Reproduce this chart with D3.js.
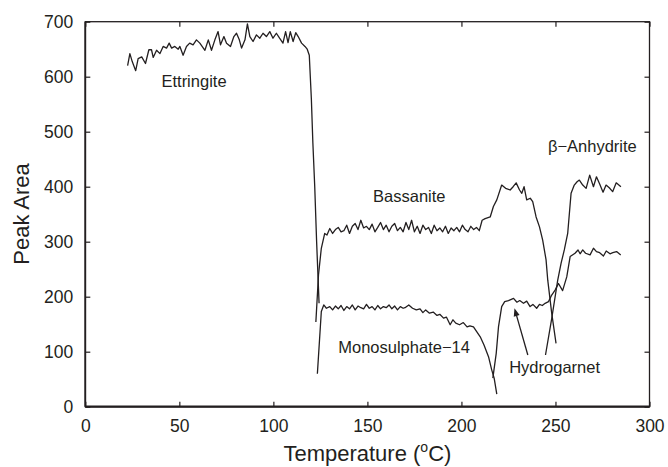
<!DOCTYPE html>
<html><head><meta charset="utf-8">
<script src="https://cdn.jsdelivr.net/npm/d3@7/dist/d3.min.js"></script>
<style>
body{margin:0;background:#fff;}
text{font-family:"Liberation Sans",Arial,sans-serif;fill:#231f20;}
</style></head>
<body><svg id="c" width="668" height="467"></svg>
<script>
const xTicks=[0,50,100,150,200,250,300];
const yTicks=[0,100,200,300,400,500,600,700];

const ettringiteT=[22.5,23.7,25,26.8,28.1,30,32,33.8,35.2,36.1,37.9,39.7,41.4,43.2,44.6,45.9,47.6,49.4,50.3,52,53.8,55.5,57.3,59.1,60.9,63.6,65.4,67.1,68.9,70.6,71.9,73.7,75.1,77.2,79,80.4,81.9,83.1,84.9,86.2,87.5,89.2,91,92.8,94.5,96.3,98.1,99.8,101.6,103.3,105.1,106.5,107.8,109,110.5,111.9,113.2,115,116.8,118,119.1,120.2,121,122,123,124.3];
const ettringiteV=[620,642,627,611,633,636,624,649,649,635,648,642,655,652,661,652,655,650,655,639,655,661,658,667,661,648,667,648,667,682,658,673,661,655,673,679,667,652,667,696,673,664,676,670,679,673,682,670,679,670,661,682,662,682,664,680,673,661,655,650,639,560,480,400,300,188];

const bassaniteT=[122.6,124,125.5,127.3,128.5,130,131.5,133,134.5,136,137.5,139,140.5,142,143.5,145,146.5,148,149.5,151,152.5,154,155.5,157,158.5,160,161.5,163,164.5,166,167.5,169,170.5,172,173.5,175,176.5,178,179.5,181,182.5,184,185.5,187,188.5,190,191.5,193,194.5,196,197.5,199,200.5,202,203.5,205,206.5,208,209.5,211,212.6,215.3,217,218.8,221.4,223.5,225.9,227.5,229.1,230.9,232.1,233.3,234.7,236.6,237.9,239.7,241.5,243.2,245,245.9,248,250.3];
const bassaniteV=[154,240,288,315,312,324,315,322,326,318,320,330,315,328,333,322,339,325,328,322,332,318,326,335,322,330,318,328,333,320,326,318,335,322,339,318,328,315,330,322,326,315,330,320,325,318,328,315,325,320,326,318,330,322,318,328,322,326,320,339,342,345,364,376,403,397,394,400,407,394,388,400,376,379,373,345,327,303,267,230,170,115];

const monosulphateT=[123.4,125.5,126.8,128.2,130,131.5,133,134.5,136,137.5,139,140.5,142,143.5,145,146.5,148,149.5,151,152.5,154,155.5,157,158.5,160,161.5,163,164.5,166,167.5,169,170,172,174,176,178,179.5,181,183,185,187,188.5,190.5,192,194,195.5,197,199,201,203,204.5,206.4,208.2,210,212,214.4,216.1,217.4,218.8];
const monosulphateV=[60,173,185,179,182,176,183,178,184,175,182,178,185,176,183,180,178,186,179,182,176,184,178,182,180,185,178,183,176,182,179,180,185,179,176,178,171,176,170,172,166,168,161,163,149,158,152,149,153,145,147,145,136,127,112,91,67,52,23];

const hydrogarnetT=[216.7,218.5,219.7,221.4,223,225,227.7,229.5,231,233,234.7,236.5,238,240,241.5,243,244.5,246.3,248,249.8,251.6,253.8,256,257.8,260.4,262,263.1,264.5,266,268.4,270.2,271.8,273.5,275.5,277,279,280.5,282.5,284.7];
const hydrogarnetV=[52,97,145,182,191,193,197,190,193,188,192,182,186,179,186,184,188,191,203,212,224,211,236,273,279,285,278,285,279,276,288,282,280,274,283,278,280,282,276];

const anhydriteT=[244.7,248,251.2,253,254.7,256.5,258.3,260,261.5,262.7,264.5,266.3,268.2,270.2,271.8,273.5,275.3,276.9,278.6,280.4,282.3,284.8];
const anhydriteV=[94,160,230,261,285,315,388,403,409,412,403,397,421,400,418,405,390,403,398,391,407,400];

const labelNames=["Ettringite","Bassanite","β−Anhydrite","Monosulphate−14","Hydrogarnet"];
const labelT=[40.5,153,246,134.5,225.4];
const labelV=[582,372,464,97,62];

const arrowFromT=235.3, arrowFromV=94, arrowToT=228.2, arrowToV=179;

const svg=d3.select("#c");
const L=85.3,R=649.5,T=21.7,B=406.7;
const x=d3.scaleLinear().domain([0,300]).range([L,R]);
const y=d3.scaleLinear().domain([0,700]).range([B,T]);
const ink="#231f20";

// frame
svg.append("rect").attr("x",L).attr("y",T).attr("width",R-L).attr("height",B-T)
  .attr("fill","none").attr("stroke",ink).attr("stroke-width",1.3);
svg.append("line").attr("x1",L).attr("x2",R).attr("y1",B).attr("y2",B).attr("stroke",ink).attr("stroke-width",2.2);
svg.append("line").attr("x1",L).attr("x2",L).attr("y1",T).attr("y2",B).attr("stroke",ink).attr("stroke-width",1.8);

const fs="17.5px";
const gx=svg.append("g").attr("transform",`translate(0,${B})`)
  .call(d3.axisBottom(x).tickValues(xTicks).tickFormat(d3.format("d")).tickSizeInner(-5).tickSizeOuter(0).tickPadding(13));
const gy=svg.append("g").attr("transform",`translate(${L},0)`)
  .call(d3.axisLeft(y).tickValues(yTicks).tickFormat(d3.format("d")).tickSizeInner(-5).tickSizeOuter(0).tickPadding(12));
const gx2=svg.append("g").attr("transform",`translate(0,${T})`)
  .call(d3.axisTop(x).tickValues(xTicks).tickFormat("").tickSizeInner(-5).tickSizeOuter(0));
const gy2=svg.append("g").attr("transform",`translate(${R},0)`)
  .call(d3.axisRight(y).tickValues(yTicks).tickFormat("").tickSizeInner(-5).tickSizeOuter(0));
[gx,gy,gx2,gy2].forEach(g=>{
  g.select(".domain").remove();
  g.selectAll(".tick line").attr("stroke",ink).attr("stroke-width",1.2);
  g.selectAll("text").attr("font-size",fs).attr("fill",ink).attr("font-family","Liberation Sans, Arial, sans-serif");
});

svg.append("text").attr("x",(L+R)/2).attr("y",461).attr("text-anchor","middle").attr("font-size","22px")
  .html('Temperature (<tspan font-size="14px" dy="-9">o</tspan><tspan dy="9">C)</tspan>');
svg.append("text").attr("transform","translate(29,214) rotate(-90)").attr("text-anchor","middle").attr("font-size","22px").text("Peak Area");

const line=d3.line().x(d=>x(d[0])).y(d=>y(d[1]));
const series=[[ettringiteT,ettringiteV],[bassaniteT,bassaniteV],[monosulphateT,monosulphateV],[hydrogarnetT,hydrogarnetV],[anhydriteT,anhydriteV]];
series.forEach(([t,v])=>{
  svg.append("path").datum(t.map((d,i)=>[d,v[i]])).attr("d",line)
    .attr("fill","none").attr("stroke",ink).attr("stroke-width",1.3).attr("stroke-linejoin","round");
});

labelNames.forEach((n,i)=>{
  svg.append("text").attr("x",x(labelT[i])).attr("y",y(labelV[i])).attr("font-size","16.5px").text(n);
});

// arrow
const ax1=x(arrowFromT),ay1=y(arrowFromV),ax2=x(arrowToT),ay2=y(arrowToV);
const ang=Math.atan2(ay2-ay1,ax2-ax1);
const hl=8,hw=3;
svg.append("line").attr("x1",ax1).attr("y1",ay1).attr("x2",ax2-Math.cos(ang)*4).attr("y2",ay2-Math.sin(ang)*4)
  .attr("stroke",ink).attr("stroke-width",1.3);
const bx=ax2-Math.cos(ang)*hl, by=ay2-Math.sin(ang)*hl;
svg.append("path").attr("d",`M${ax2},${ay2}L${bx+Math.sin(ang)*hw},${by-Math.cos(ang)*hw}L${bx-Math.sin(ang)*hw},${by+Math.cos(ang)*hw}Z`).attr("fill",ink);
</script></body></html>
